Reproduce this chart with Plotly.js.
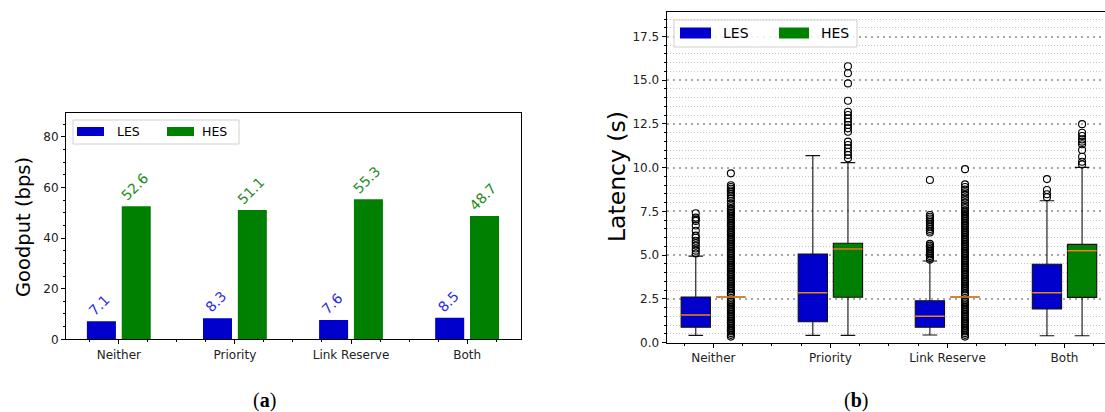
<!DOCTYPE html>
<html>
<head>
<meta charset="utf-8">
<script src="https://cdn.plot.ly/plotly-3.0.1.min.js"></script>
<style>
html,body{margin:0;padding:0;background:#fff;overflow:hidden;}
#chart{width:1112px;height:412px;}
</style>
</head>
<body>
<div id="chart"></div>
<script>
// ---------- data ----------
const categories = ['Neither', 'Priority', 'Link Reserve', 'Both'];
const seriesNames = ['LES', 'HES'];

// (a) goodput
const lesGoodput = [7.1, 8.3, 7.6, 8.5];
const hesGoodput = [52.6, 51.1, 55.3, 48.7];

// (b) latency box statistics
const lesQ1 = [0.88, 1.20, 0.88, 1.93];
const lesMedian = [1.58, 2.86, 1.51, 2.86];
const lesQ3 = [2.61, 5.07, 2.40, 4.48];
const lesLowerFence = [0.42, 0.42, 0.44, 0.40];
const lesUpperFence = [4.95, 10.69, 4.67, 8.11];

const hesQ1 = [2.61, 2.60, 2.61, 2.59];
const hesMedian = [2.61, 5.35, 2.61, 5.26];
const hesQ3 = [2.61, 5.68, 2.61, 5.62];
const hesLowerFence = [2.61, 0.42, 2.61, 0.40];
const hesUpperFence = [2.61, 10.29, 2.61, 10.02];

// outliers
const lesOutNeither = [5.10, 5.26, 5.38, 5.55, 5.70, 5.83, 6.00, 6.12, 6.40, 6.70, 6.96, 7.05, 7.15, 7.40];
const lesOutPriority = [];
const lesOutLink = [4.75, 4.85, 4.95, 5.05, 5.15, 5.25, 5.35, 5.45, 5.55, 5.65, 6.30, 6.40, 6.50, 6.60, 6.70, 6.80, 6.90, 7.00, 7.10, 7.20, 7.30, 9.30];
const lesOutBoth = [8.31, 8.48, 8.73, 9.35];

const hesOutNeither = [0.35, 0.45, 0.55, 0.65, 0.75, 0.85, 0.95, 1.05, 1.15, 1.25, 1.35, 1.45, 1.55, 1.65, 1.75, 1.85, 1.95, 2.05, 2.15, 2.25, 2.35, 2.45, 2.75, 2.85, 2.95, 3.05, 3.15, 3.25, 3.35, 3.45, 3.55, 3.65, 3.75, 3.85, 3.95, 4.05, 4.15, 4.25, 4.35, 4.45, 4.55, 4.65, 4.75, 4.85, 4.95, 5.05, 5.15, 5.25, 5.35, 5.45, 5.55, 5.65, 5.75, 5.85, 5.95, 6.05, 6.15, 6.25, 6.35, 6.45, 6.55, 6.65, 6.75, 6.85, 6.95, 7.05, 7.15, 7.25, 7.35, 7.45, 7.55, 7.65, 7.80, 7.95, 8.10, 8.25, 8.40, 8.50, 8.60, 8.70, 8.80, 8.90, 9.00, 9.68];
const hesOutPriority = [10.54, 10.73, 10.91, 11.11, 11.30, 11.49, 12.06, 12.25, 12.44, 12.63, 12.82, 13.01, 13.20, 13.83, 14.82, 15.40, 15.80];
const hesOutLink = [0.35, 0.45, 0.55, 0.65, 0.75, 0.85, 0.95, 1.05, 1.15, 1.25, 1.35, 1.45, 1.55, 1.65, 1.75, 1.85, 1.95, 2.05, 2.15, 2.25, 2.35, 2.45, 2.75, 2.85, 2.95, 3.05, 3.15, 3.25, 3.35, 3.45, 3.55, 3.65, 3.75, 3.85, 3.95, 4.05, 4.15, 4.25, 4.35, 4.45, 4.55, 4.65, 4.75, 4.85, 4.95, 5.05, 5.15, 5.25, 5.35, 5.45, 5.55, 5.65, 5.75, 5.85, 5.95, 6.05, 6.15, 6.25, 6.35, 6.45, 6.55, 6.65, 6.75, 6.85, 6.95, 7.05, 7.15, 7.25, 7.35, 7.45, 7.55, 7.70, 7.85, 8.00, 8.15, 8.30, 8.45, 8.60, 8.75, 8.90, 9.05, 9.92];
const hesOutBoth = [10.19, 10.34, 10.63, 11.01, 11.34, 11.49, 11.62, 11.81, 12.00, 12.49];

const lesOutliers = [lesOutNeither, lesOutPriority, lesOutLink, lesOutBoth];
const hesOutliers = [hesOutNeither, hesOutPriority, hesOutLink, hesOutBoth];

// ---------- styling ----------
const W = 1112, H = 412;
const px = v => v / W;
const py = v => 1 - v / H;
const BLUE = '#0000cd', GREEN = '#008000';
const OFF = 0.15, BW = 0.25;
const FONT = 'DejaVu Sans';
const idx = categories.map((c, i) => i);

const traces = [];

// (a) bars
traces.push({type:'bar', x: idx.map(i => i - OFF), y: lesGoodput, width: BW, name: seriesNames[0],
  marker:{color: BLUE}, xaxis:'x', yaxis:'y', hoverinfo:'skip', showlegend:false});
traces.push({type:'bar', x: idx.map(i => i + OFF), y: hesGoodput, width: BW, name: seriesNames[1],
  marker:{color: GREEN}, xaxis:'x', yaxis:'y', hoverinfo:'skip', showlegend:false});

// (b) boxes
traces.push({type:'box', x: idx.map(i => i - OFF), q1: lesQ1, median: lesMedian, q3: lesQ3,
  lowerfence: lesLowerFence, upperfence: lesUpperFence, width: BW, whiskerwidth: 0.5,
  fillcolor: BLUE, line:{color:'#111', width:1.1}, boxpoints:false, xaxis:'x2', yaxis:'y2',
  hoverinfo:'skip', showlegend:false, name: seriesNames[0]});
traces.push({type:'box', x: idx.map(i => i + OFF), q1: hesQ1, median: hesMedian, q3: hesQ3,
  lowerfence: hesLowerFence, upperfence: hesUpperFence, width: BW, whiskerwidth: 0.5,
  fillcolor: GREEN, line:{color:'#111', width:1.1}, boxpoints:false, xaxis:'x2', yaxis:'y2',
  hoverinfo:'skip', showlegend:false, name: seriesNames[1]});

// outliers
function outlierTrace(groups, off) {
  const xs = [], ys = [];
  groups.forEach((g, i) => g.forEach(v => { xs.push(i + off); ys.push(v); }));
  return {type:'scatter', mode:'markers', x: xs, y: ys, xaxis:'x2', yaxis:'y2',
    marker:{symbol:'circle-open', size:7, color:'#000', line:{width:1.1, color:'#000'}},
    hoverinfo:'skip', showlegend:false};
}
traces.push(outlierTrace(lesOutliers, -OFF));
traces.push(outlierTrace(hesOutliers, OFF));

// median lines on top
function medianTrace(meds, off) {
  const xs = [], ys = [];
  meds.forEach((m, i) => { xs.push(i + off - BW/2, i + off + BW/2, null); ys.push(m, m, null); });
  return {type:'scatter', mode:'lines', x: xs, y: ys, xaxis:'x2', yaxis:'y2',
    line:{color:'#ee8520', width:1.5}, hoverinfo:'skip', showlegend:false};
}
traces.push(medianTrace(lesMedian, -OFF));
traces.push(medianTrace(hesMedian, OFF));

// ---------- annotations ----------
const annotations = [];

// rotated value labels
lesGoodput.forEach((v, i) => annotations.push({xref:'x', yref:'y', x: i - OFF, y: v, text: v.toFixed(1),
  textangle:-45, showarrow:false, xanchor:'center', yanchor:'bottom', xshift:-2, yshift:0,
  font:{family:FONT, size:14, color:'#2b2be0'}}));
hesGoodput.forEach((v, i) => annotations.push({xref:'x', yref:'y', x: i + OFF, y: v, text: v.toFixed(1),
  textangle:-45, showarrow:false, xanchor:'center', yanchor:'bottom', xshift:-2, yshift:0,
  font:{family:FONT, size:14, color:'#218a21'}}));

// axis titles
annotations.push({xref:'paper', yref:'paper', x: px(23), y: py(227), text:'Goodput (bps)', textangle:-90,
  showarrow:false, xanchor:'center', yanchor:'middle', font:{family:FONT, size:19.5, color:'#000'}});
annotations.push({xref:'paper', yref:'paper', x: px(617), y: py(177), text:'Latency (s)', textangle:-90,
  showarrow:false, xanchor:'center', yanchor:'middle', font:{family:FONT, size:23.5, color:'#000'}});

// captions
annotations.push({xref:'paper', yref:'paper', x: px(264), y: py(400), text:'(<b>a</b>)', showarrow:false,
  xanchor:'center', yanchor:'middle', font:{family:'Liberation Serif, DejaVu Serif, serif', size:20, color:'#000'}});
annotations.push({xref:'paper', yref:'paper', x: px(856), y: py(400), text:'(<b>b</b>)', showarrow:false,
  xanchor:'center', yanchor:'middle', font:{family:'Liberation Serif, DejaVu Serif, serif', size:20, color:'#000'}});

// legends (custom, matplotlib-like)
const shapes = [];
function legend(x0, y0, x1, y1, patches, fontSize) {
  shapes.push({type:'rect', xref:'paper', yref:'paper', x0: px(x0), x1: px(x1), y0: py(y1), y1: py(y0),
    fillcolor:'rgba(255,255,255,0.85)', line:{color:'#d0d0d0', width:1}, layer:'above'});
  patches.forEach(p => {
    shapes.push({type:'rect', xref:'paper', yref:'paper', x0: px(p.px0), x1: px(p.px1), y0: py(p.py1), y1: py(p.py0),
      fillcolor: p.color, line:{width:0}, layer:'above'});
    annotations.push({xref:'paper', yref:'paper', x: px(p.tx), y: py((p.py0 + p.py1)/2), text: p.label,
      showarrow:false, xanchor:'left', yanchor:'middle', font:{family:FONT, size:fontSize, color:'#000'}});
  });
}
legend(73, 120, 239, 144, [
  {px0:77, px1:104, py0:127, py1:136, color:BLUE, tx:115, label:seriesNames[0]},
  {px0:167, px1:194, py0:127, py1:136, color:GREEN, tx:200, label:seriesNames[1]}
], 12.5);
legend(674, 20, 857, 47, [
  {px0:680, px1:711, py0:27.5, py1:38.5, color:BLUE, tx:720.5, label:seriesNames[0]},
  {px0:779, px1:809, py0:27.5, py1:38.5, color:GREEN, tx:819, label:seriesNames[1]}
], 14);

// ---------- layout ----------
const tickFont = {family:FONT, size:12, color:'#222'};
const commonAxis = {showline:true, mirror:true, linecolor:'#000', linewidth:1, ticks:'outside', ticklen:4,
  tickcolor:'#000', tickwidth:1, tickfont:tickFont, zeroline:false, fixedrange:true};

const layout = {
  width: W, height: H, margin:{l:0, r:0, t:0, b:0}, paper_bgcolor:'#fff', plot_bgcolor:'#fff',
  showlegend:false, barmode:'overlay', boxmode:'overlay',
  xaxis: Object.assign({}, commonAxis, {domain:[px(66), px(520.5)], range:[-0.455, 3.46], anchor:'y',
    tickmode:'array', tickvals: idx, ticktext: categories, showgrid:false,
    minor:{tickmode:'linear', tick0:0, dtick:0.25, ticks:'outside', ticklen:2, tickcolor:'#000', showgrid:false}}),
  yaxis: Object.assign({}, commonAxis, {domain:[py(339.3), py(113)], range:[0, 89.4], anchor:'x',
    tickmode:'linear', tick0:0, dtick:20, showgrid:false,
    minor:{tickmode:'linear', tick0:0, dtick:5, ticks:'outside', ticklen:2, tickcolor:'#000', showgrid:false}}),
  xaxis2: Object.assign({}, commonAxis, {domain:[px(666.5), px(1109)], range:[-0.4, 3.38], anchor:'y2',
    tickmode:'array', tickvals: idx, ticktext: categories, showgrid:false,
    minor:{tickmode:'linear', tick0:0, dtick:0.25, ticks:'outside', ticklen:2, tickcolor:'#000', showgrid:false}}),
  yaxis2: Object.assign({}, commonAxis, {domain:[py(342.7), py(12)], range:[0, 18.9], anchor:'x2',
    tickmode:'linear', tick0:0, dtick:2.5, tickformat:'.1f', showgrid:true, gridcolor:'#a8a8a8', gridwidth:2,
    griddash:'2px,4px',
    minor:{tickmode:'linear', tick0:0, dtick:0.5, ticks:'outside', ticklen:2, tickcolor:'#000',
      showgrid:true, gridcolor:'#c4c4c4', gridwidth:1, griddash:'1px,2px'}}),
  annotations: annotations,
  shapes: shapes
};

Plotly.newPlot('chart', traces, layout, {staticPlot:true, displayModeBar:false});
</script>
</body>
</html>
